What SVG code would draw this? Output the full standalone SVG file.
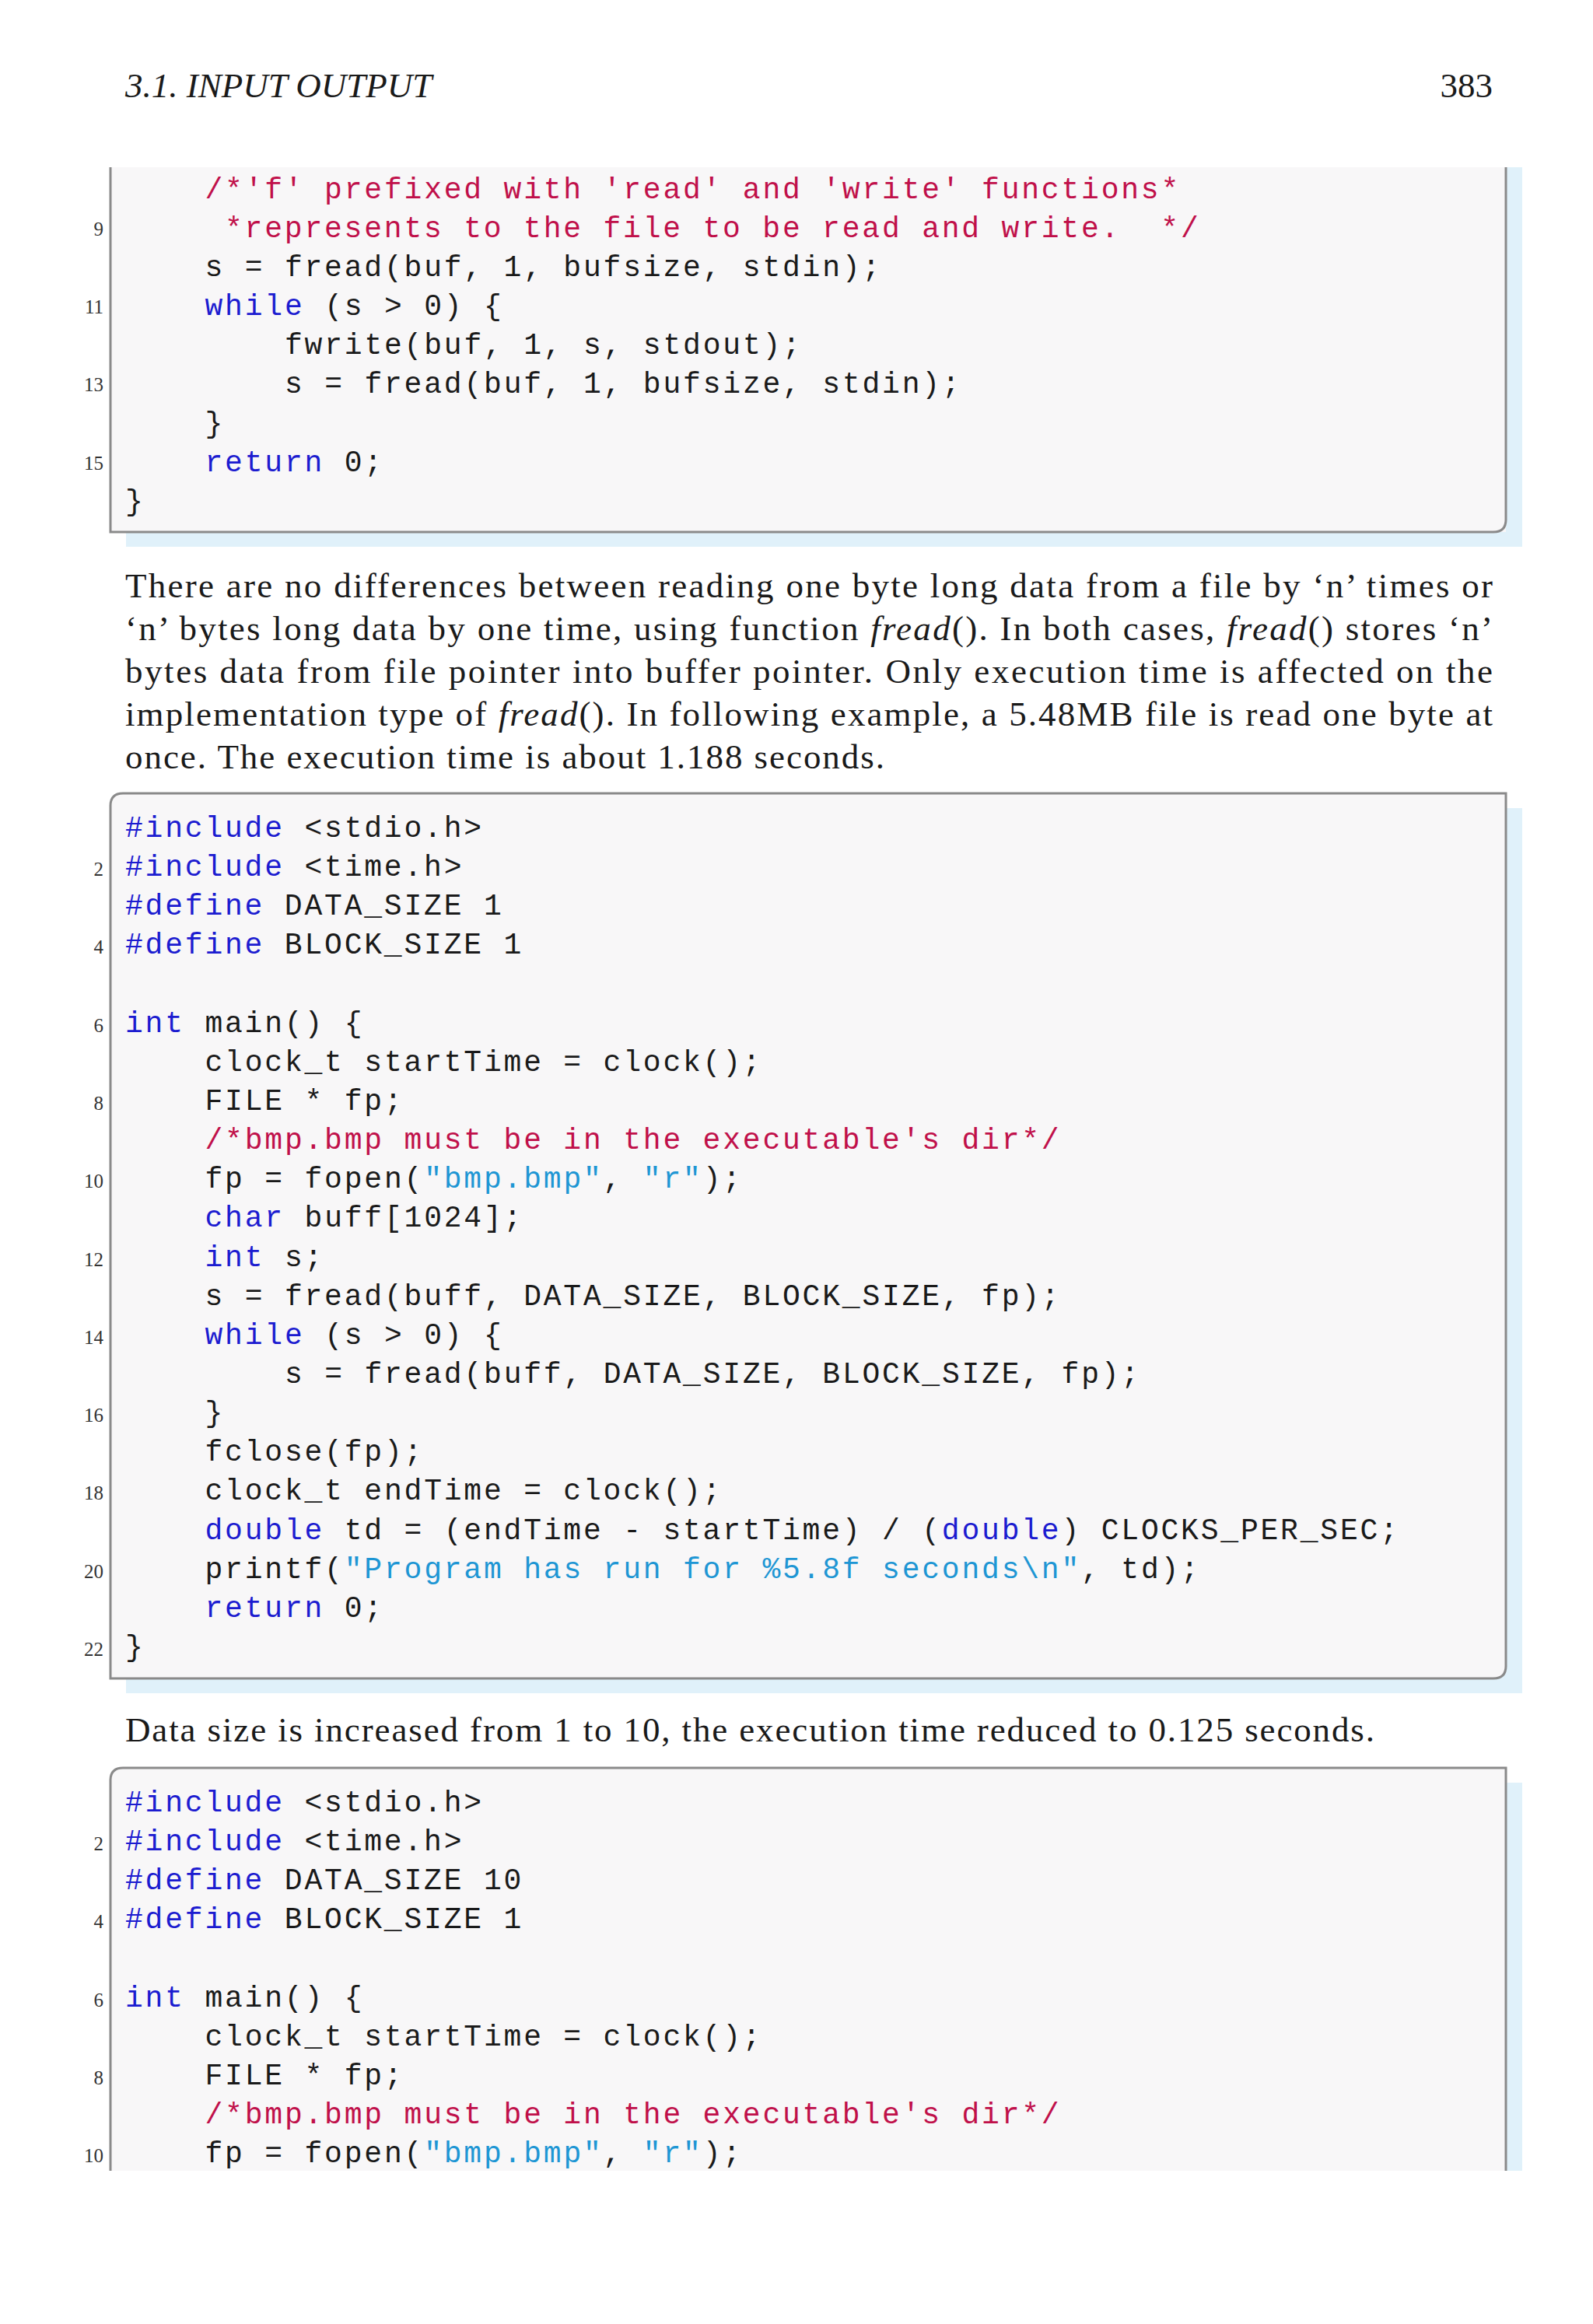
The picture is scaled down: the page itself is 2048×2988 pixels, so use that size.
<svg xmlns="http://www.w3.org/2000/svg" width="2048" height="2988" viewBox="0 0 2048 2988">
<style>
.c{font-family:"Liberation Mono","DejaVu Sans Mono",monospace;font-size:38px;letter-spacing:2.8px;fill:#1a1a1a;white-space:pre}
.k{fill:#1c1cd0}.m{fill:#c0104a}.s{fill:#1e96d4}
.n{font-family:"Liberation Serif",serif;font-size:25px;fill:#333;text-anchor:end}
.p{font-family:"Liberation Serif",serif;font-size:45px;fill:#1a1a1a}
.i{font-style:italic}
.sh{fill:#e0f1fa}.bg{fill:#f8f7f8}.bd{fill:none;stroke:#8a8a8a;stroke-width:3}
</style>
<rect width="2048" height="2988" fill="#fff"/>
<g id="header">
<text class="p i" x="161" y="125" font-size="44">3.1.  INPUT OUTPUT</text>
<text class="p" x="1919" y="125" text-anchor="end">383</text>
</g>
<g id="box1">
<rect class="sh" x="162" y="215" width="1795" height="488"/>
<rect class="bg" x="142" y="215" width="1794" height="469"/>
<path class="bd" d="M142 215V684H1920Q1936 684 1936 668V215"/>
<text class="n" x="133" y="303">9</text><text class="n" x="133" y="403">11</text><text class="n" x="133" y="503">13</text><text class="n" x="133" y="604">15</text>
<text class="c" y="255" x="263.5"><tspan class="m">/*'f' prefixed with 'read' and 'write' functions*</tspan></text>
<text class="c" y="305" x="289"><tspan class="m">*represents to the file to be read and write.  */</tspan></text>
<text class="c" y="355" x="263.5">s = fread(buf, 1, bufsize, stdin);</text>
<text class="c" y="405" x="263.5"><tspan class="k">while</tspan> (s &gt; 0) {</text>
<text class="c" y="455" x="366">fwrite(buf, 1, s, stdout);</text>
<text class="c" y="505" x="366">s = fread(buf, 1, bufsize, stdin);</text>
<text class="c" y="556" x="263.5">}</text>
<text class="c" y="606" x="263.5"><tspan class="k">return</tspan> 0;</text>
<text class="c" y="656" x="161">}</text>
</g>
<g id="para1">
<text class="p" x="161" y="768" textLength="1758" lengthAdjust="spacing">There are no differences between reading one byte long data from a file by ‘n’ times or</text>
<text class="p" x="161" y="823" textLength="1758" lengthAdjust="spacing">‘n’ bytes long data by one time, using function <tspan class="i">fread</tspan>(). In both cases, <tspan class="i">fread</tspan>() stores ‘n’</text>
<text class="p" x="161" y="878" textLength="1758" lengthAdjust="spacing">bytes data from file pointer into buffer pointer.  Only execution time is affected on the</text>
<text class="p" x="161" y="933" textLength="1758" lengthAdjust="spacing">implementation type of <tspan class="i">fread</tspan>(). In following example, a 5.48MB file is read one byte at</text>
<text class="p" x="161" y="988" textLength="976" lengthAdjust="spacing">once.  The execution time is about 1.188 seconds.</text>
</g>
<g id="box2">
<rect class="sh" x="162" y="1039" width="1795" height="1138"/>
<path class="bg" d="M158 1020H1936V2142Q1936 2158 1920 2158H142V1036Q142 1020 158 1020Z"/>
<path class="bd" d="M158 1020H1936V2142Q1936 2158 1920 2158H142V1036Q142 1020 158 1020Z"/>
<text class="n" x="133" y="1126">2</text><text class="n" x="133" y="1226">4</text><text class="n" x="133" y="1327">6</text><text class="n" x="133" y="1427">8</text><text class="n" x="133" y="1527">10</text><text class="n" x="133" y="1628">12</text><text class="n" x="133" y="1728">14</text><text class="n" x="133" y="1828">16</text><text class="n" x="133" y="1928">18</text><text class="n" x="133" y="2029">20</text><text class="n" x="133" y="2129">22</text>
<text class="c" x="161" y="1076"><tspan class="k">#include</tspan> &lt;stdio.h&gt;</text>
<text class="c" x="161" y="1126"><tspan class="k">#include</tspan> &lt;time.h&gt;</text>
<text class="c" x="161" y="1176"><tspan class="k">#define</tspan> DATA_SIZE 1</text>
<text class="c" x="161" y="1226"><tspan class="k">#define</tspan> BLOCK_SIZE 1</text>
<text class="c" x="161" y="1327"><tspan class="k">int</tspan> main() {</text>
<text class="c" x="263.5" y="1377">clock_t startTime = clock();</text>
<text class="c" x="263.5" y="1427">FILE * fp;</text>
<text class="c" x="263.5" y="1477"><tspan class="m">/*bmp.bmp must be in the executable's dir*/</tspan></text>
<text class="c" x="263.5" y="1527">fp = fopen(<tspan class="s">"bmp.bmp"</tspan>, <tspan class="s">"r"</tspan>);</text>
<text class="c" x="263.5" y="1577"><tspan class="k">char</tspan> buff[1024];</text>
<text class="c" x="263.5" y="1628"><tspan class="k">int</tspan> s;</text>
<text class="c" x="263.5" y="1678">s = fread(buff, DATA_SIZE, BLOCK_SIZE, fp);</text>
<text class="c" x="263.5" y="1728"><tspan class="k">while</tspan> (s &gt; 0) {</text>
<text class="c" x="366" y="1778">s = fread(buff, DATA_SIZE, BLOCK_SIZE, fp);</text>
<text class="c" x="263.5" y="1828">}</text>
<text class="c" x="263.5" y="1878">fclose(fp);</text>
<text class="c" x="263.5" y="1928">clock_t endTime = clock();</text>
<text class="c" x="263.5" y="1979"><tspan class="k">double</tspan> td = (endTime - startTime) / (<tspan class="k">double</tspan>) CLOCKS_PER_SEC;</text>
<text class="c" x="263.5" y="2029">printf(<tspan class="s">"Program has run for %5.8f seconds\n"</tspan>, td);</text>
<text class="c" x="263.5" y="2079"><tspan class="k">return</tspan> 0;</text>
<text class="c" x="161" y="2129">}</text>
</g>
<g id="para2">
<text class="p" x="161" y="2239" textLength="1606" lengthAdjust="spacing">Data size is increased from 1 to 10, the execution time reduced to 0.125 seconds.</text>
</g>
<g id="box3">
<rect class="sh" x="162" y="2292" width="1795" height="499"/>
<path class="bg" d="M142 2791V2289Q142 2273 158 2273H1936V2791Z"/>
<path class="bd" d="M142 2791V2289Q142 2273 158 2273H1936V2791"/>
<text class="n" x="133" y="2379">2</text><text class="n" x="133" y="2479">4</text><text class="n" x="133" y="2580">6</text><text class="n" x="133" y="2680">8</text><text class="n" x="133" y="2780">10</text>
<text class="c" x="161" y="2329"><tspan class="k">#include</tspan> &lt;stdio.h&gt;</text>
<text class="c" x="161" y="2379"><tspan class="k">#include</tspan> &lt;time.h&gt;</text>
<text class="c" x="161" y="2429"><tspan class="k">#define</tspan> DATA_SIZE 10</text>
<text class="c" x="161" y="2479"><tspan class="k">#define</tspan> BLOCK_SIZE 1</text>
<text class="c" x="161" y="2580"><tspan class="k">int</tspan> main() {</text>
<text class="c" x="263.5" y="2630">clock_t startTime = clock();</text>
<text class="c" x="263.5" y="2680">FILE * fp;</text>
<text class="c" x="263.5" y="2730"><tspan class="m">/*bmp.bmp must be in the executable's dir*/</tspan></text>
<text class="c" x="263.5" y="2780">fp = fopen(<tspan class="s">"bmp.bmp"</tspan>, <tspan class="s">"r"</tspan>);</text>
</g>
</svg>
